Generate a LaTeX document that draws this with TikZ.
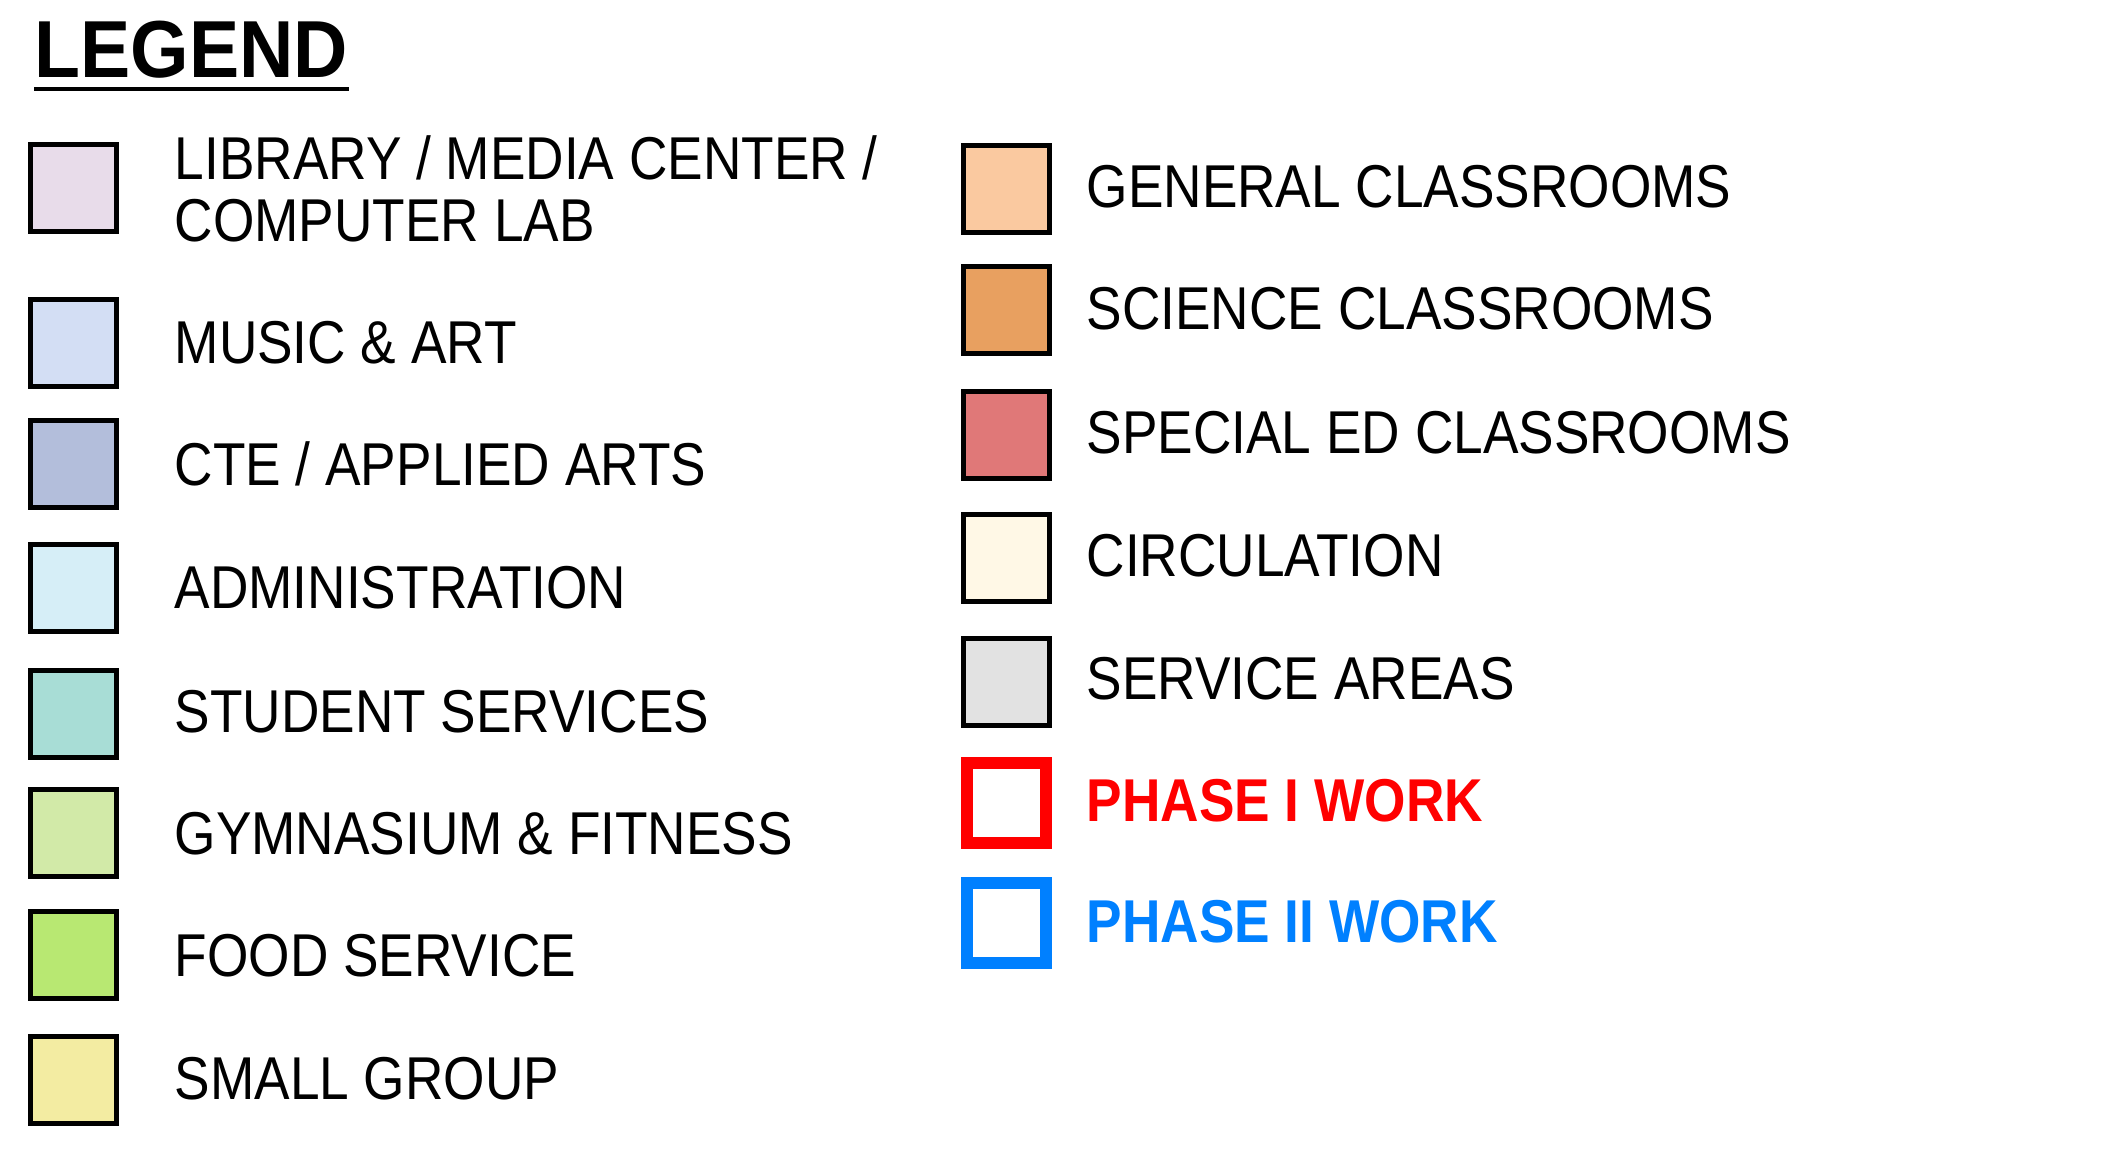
\documentclass[tikz,border=0pt]{standalone}
\usepackage{xcolor}
\usepackage{fontspec}
\setmainfont{Liberation Sans}[FakeStretch=0.88]
\usepackage{tikz}

\definecolor{libcol}{HTML}{E8DCEA}
\definecolor{musiccol}{HTML}{D3DEF4}
\definecolor{ctecol}{HTML}{B3BEDB}
\definecolor{admincol}{HTML}{D6EEF7}
\definecolor{studentcol}{HTML}{A8DDD6}
\definecolor{gymcol}{HTML}{D2EAA8}
\definecolor{foodcol}{HTML}{B8E872}
\definecolor{smallcol}{HTML}{F3ECA2}
\definecolor{generalcol}{HTML}{FAC9A0}
\definecolor{sciencecol}{HTML}{E8A060}
\definecolor{specialcol}{HTML}{E07878}
\definecolor{circcol}{HTML}{FFF8E6}
\definecolor{servicecol}{HTML}{E2E2E2}
\definecolor{phaseonecol}{HTML}{FF0000}
\definecolor{phasetwocol}{HTML}{0080FF}

\begin{document}
\begin{tikzpicture}[x=0.01cm, y=-0.01cm,
        swatch/.style={draw=black, line width=1.4pt, minimum width=0.86cm, minimum height=0.87cm, inner sep=0pt},
        phasebox/.style={line width=3.4pt, minimum width=0.79cm, minimum height=0.80cm, inner sep=0pt},
        entry/.style={anchor=west, inner sep=0pt, font=\fontsize{17.2pt}{17.7pt}\selectfont, text height=12.3pt, text depth=0pt}]
        \useasboundingbox (0,0) rectangle (2120,1164);

        % Title
        \node[anchor=base west, inner sep=0pt, font=\fontsize{23pt}{27pt}\selectfont\bfseries\addfontfeatures{FakeStretch=0.93}] (title) at (34,78) {LEGEND};
        \draw[line width=1.15pt] ([yshift=-3.1pt]title.base west) -- ([yshift=-3.1pt]title.base east);

        % Left column
        \node[swatch, fill=libcol] (lib) at (73.5,188) {};
        \node[anchor=west, inner sep=0pt, align=left, font=\fontsize{17.2pt}{17.7pt}\selectfont] (libtext) at (174,189) {LIBRARY / MEDIA CENTER /\\COMPUTER LAB};
        \node[swatch, fill=musiccol] (music) at (73.5,343) {};
        \node[entry] (musictext) at (174,342) {MUSIC \& ART};
        \node[swatch, fill=ctecol] (cte) at (73.5,464) {};
        \node[entry] (ctetext) at (174,464) {CTE / APPLIED ARTS};
        \node[swatch, fill=admincol] (admin) at (73.5,588) {};
        \node[entry] (admintext) at (174,587) {ADMINISTRATION};
        \node[swatch, fill=studentcol] (student) at (73.5,714) {};
        \node[entry] (studenttext) at (174,711) {STUDENT SERVICES};
        \node[swatch, fill=gymcol] (gym) at (73.5,833) {};
        \node[entry] (gymtext) at (174,833) {GYMNASIUM \& FITNESS};
        \node[swatch, fill=foodcol] (food) at (73.5,955) {};
        \node[entry] (foodtext) at (174,955) {FOOD SERVICE};
        \node[swatch, fill=smallcol] (small) at (73.5,1080) {};
        \node[entry] (smalltext) at (174,1078) {SMALL GROUP};

        % Right column
        \node[swatch, fill=generalcol] (general) at (1006.5,189) {};
        \node[entry] (generaltext) at (1086,186) {GENERAL CLASSROOMS};
        \node[swatch, fill=sciencecol] (science) at (1006.5,310) {};
        \node[entry] (sciencetext) at (1086,308) {SCIENCE CLASSROOMS};
        \node[swatch, fill=specialcol] (special) at (1006.5,435) {};
        \node[entry] (specialtext) at (1086,432) {SPECIAL ED CLASSROOMS};
        \node[swatch, fill=circcol] (circ) at (1006.5,558) {};
        \node[entry] (circtext) at (1086,555) {CIRCULATION};
        \node[swatch, fill=servicecol] (service) at (1006.5,682) {};
        \node[entry] (servicetext) at (1086,678) {SERVICE AREAS};
        \node[phasebox, draw=phaseonecol] (phaseone) at (1006.5,803) {};
        \node[entry, text=phaseonecol, font=\fontsize{17.2pt}{17.7pt}\selectfont\bfseries] (phaseonetext) at (1086,800) {PHASE I WORK};
        \node[phasebox, draw=phasetwocol] (phasetwo) at (1006.5,923) {};
        \node[entry, text=phasetwocol, font=\fontsize{17.2pt}{17.7pt}\selectfont\bfseries] (phasetwotext) at (1086,921) {PHASE II WORK};
    \end{tikzpicture}
\end{document}
